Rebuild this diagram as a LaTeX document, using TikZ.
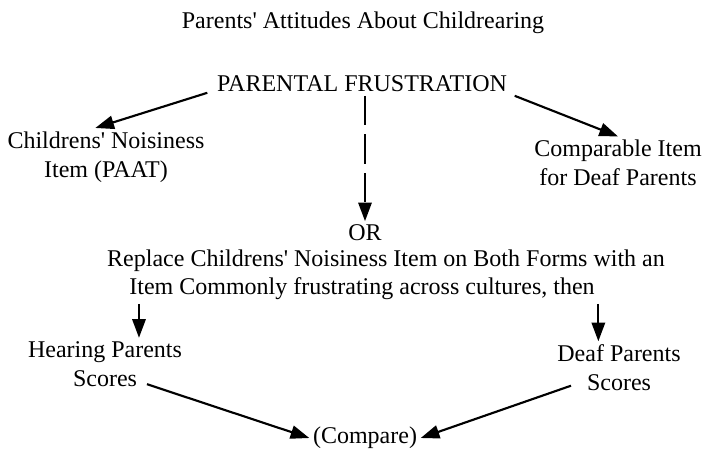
\documentclass[tikz,border=0pt]{standalone}
\usepackage{fontspec}
\setmainfont{Liberation Serif}[Ligatures=TeXOff]
\usetikzlibrary{arrows.meta}
\begin{document}
\begin{tikzpicture}[x=0.75pt, y=-0.75pt, font=\fontsize{18}{21.6}\selectfont, line join=round, >={Triangle[length=14pt,width=10pt]}, line width=1.6pt]
	\tikzset{txt/.style={align=center, inner sep=2pt}}
	\useasboundingbox (0,0) rectangle (706,449);
	% Texte
	\node[txt] (title) at (363,23) {Parents' Attitudes About Childrearing};
	\node[txt] (frust) at (362,84) {PARENTAL FRUSTRATION};
	\node[txt] (noise) at (106,157) {Childrens' Noisiness\\Item (PAAT)};
	\node[txt] (compar) at (618,163) {Comparable Item\\for Deaf Parents};
	\node[txt] (or) at (365,233) {OR};
	\node[txt] (replace) at (386,261) {Replace Childrens' Noisiness Item on Both Forms with an};
	\node[txt] (common) at (362,289) {Item Commonly frustrating across cultures, then};
	\node[txt] (hear) at (105,364) {Hearing Parents\\Scores};
	\node[txt] (deaf) at (619,368) {Deaf Parents\\Scores};
	\node[txt] (cmp) at (365,438) {(Compare)};
	% Pfeile
	\draw[->] ([shift={(-6,-3)}]frust.south west) -- ([xshift=-8pt]noise.north);
	\draw[->] ([shift={(4,0)}]frust.south east) -- (compar.north);
	\draw[->, dash pattern=on 22pt off 7pt] (or.north |- frust.south) -- (or.north);
	\draw[->] ([xshift=10pt]common.south west) -- ([xshift=10pt]common.south west |- hear.north);
	\draw[->] (common.south east) -- (common.south east |- deaf.north);
	\draw[->] ([shift={(42,-6)}]hear.south) -- (cmp.west);
	\draw[->] ([shift={(-48,-9)}]deaf.south) -- (cmp.east);
\end{tikzpicture}
\end{document}
